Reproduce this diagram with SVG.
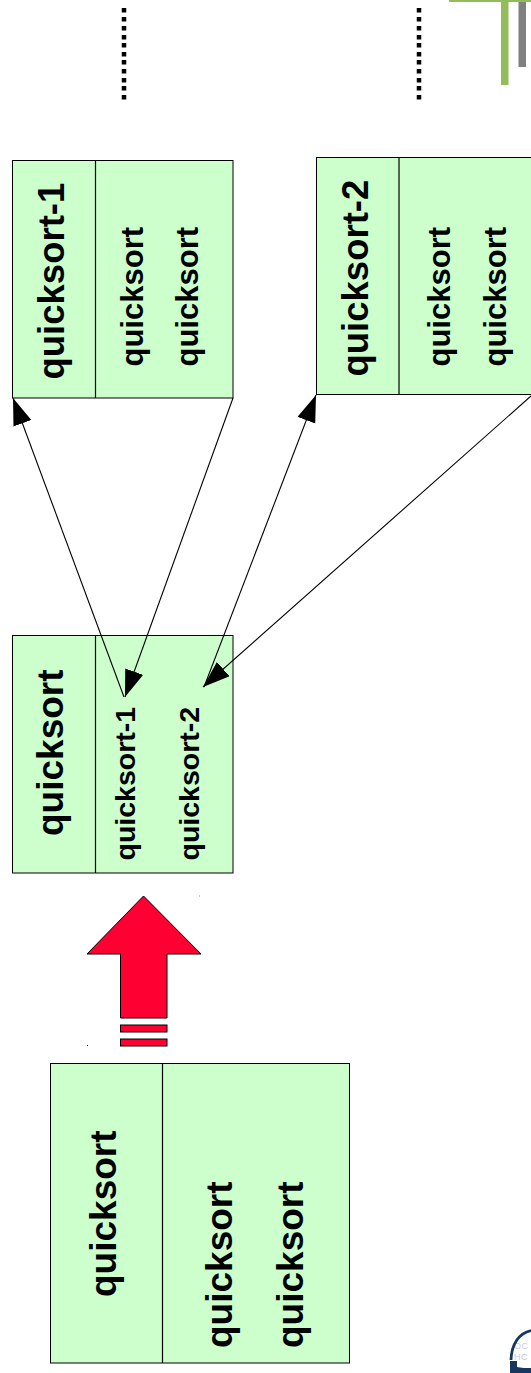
<svg xmlns="http://www.w3.org/2000/svg" width="531" height="1373" viewBox="0 0 531 1373">
<style>
.box{fill:#ccffcc;stroke:#000;stroke-width:1}
.div{stroke:#000;stroke-width:1.200;fill:none}
text{font-family:"Liberation Sans",Arial,sans-serif;font-weight:bold;fill:#000}
.t37{font-size:37px}.t365{font-size:36.500px}.t31{font-size:31px}.t29{font-size:28.500px}
.c{stroke:#000;stroke-width:1.100;fill:none;marker-end:url(#ah)}
.lg{font-size:9px;font-weight:normal;fill:#c9c9ea;letter-spacing:.5px}
</style>
<defs>
<marker id="ah" markerUnits="userSpaceOnUse" markerWidth="29" markerHeight="21" refX="27" refY="9.500" orient="auto"><path d="M0,0L27,9.500L0,19Z" fill="#000"/></marker>
<g id="dots"><rect x="0" y="8" width="4.500" height="4.500"/><rect x="0" y="17" width="4.500" height="4.500"/><rect x="0" y="26" width="4.500" height="4.500"/><rect x="0" y="35" width="4.500" height="4.500"/><rect x="0" y="43" width="4.500" height="4.500"/><rect x="0" y="52" width="4.500" height="4.500"/><rect x="0" y="60" width="4.500" height="4.500"/><rect x="0" y="69" width="4.500" height="4.500"/><rect x="0" y="78" width="4.500" height="4.500"/><rect x="0" y="86" width="4.500" height="4.500"/><rect x="0" y="95" width="4.500" height="4.500"/></g>
</defs>
<rect width="531" height="1373" fill="#fff"/>
<g id="decor">
<rect x="449" y="0" width="82" height="2" fill="#93bd5b"/>
<rect x="501" y="0" width="7.500" height="85" fill="#93bd5b"/>
<rect x="518.500" y="2" width="7.500" height="65" fill="#808080"/>
<use href="#dots" x="121.750" y="0"/>
<use href="#dots" x="416.750" y="0"/>
<rect x="199" y="895.500" width="1" height="1" fill="#888"/>
<rect x="87" y="1045" width="1" height="1" fill="#000"/>
</g>
<g id="quicksort-1">
<rect class="box" x="12.500" y="160.500" width="220.500" height="237.500"/>
<path class="div" d="M95.500 160.500V398"/>
<text class="t365" transform="translate(63.500 379.500) rotate(-90)">quicksort-1</text>
<text class="t31" transform="translate(142.500 366.500) rotate(-90)">quicksort</text>
<text class="t31" transform="translate(198 366.500) rotate(-90)">quicksort</text>
</g>
<g id="quicksort-2">
<rect class="box" x="316.500" y="157.500" width="220" height="237"/>
<path class="div" d="M399 157.500V394.500"/>
<text class="t365" transform="translate(368 376.500) rotate(-90)">quicksort-2</text>
<text class="t31" transform="translate(450 366.500) rotate(-90)">quicksort</text>
<text class="t31" transform="translate(506 366.500) rotate(-90)">quicksort</text>
</g>
<g id="quicksort">
<rect class="box" x="12.500" y="635.500" width="220.500" height="237.500"/>
<path class="div" d="M95.500 635.500V873"/>
<text class="t37" transform="translate(63 836) rotate(-90)">quicksort</text>
<text class="t29" transform="translate(135 860.500) rotate(-90)">quicksort-1</text>
<text class="t29" transform="translate(199 860.500) rotate(-90)">quicksort-2</text>
</g>
<g id="quicksort-large">
<rect class="box" x="50.500" y="1063.500" width="299" height="299.500"/>
<path class="div" d="M162.500 1063.500V1363"/>
<text class="t37" transform="translate(116 1297) rotate(-90)">quicksort</text>
<text class="t37" transform="translate(232 1348) rotate(-90)">quicksort</text>
<text class="t37" transform="translate(303 1348) rotate(-90)">quicksort</text>
</g>
<g id="red-arrow" fill="#ff0033" stroke="#000" stroke-width="1">
<path d="M143.500 896L201 954H167V1018H120.500V954H87Z"/>
<rect x="120.500" y="1025" width="46.500" height="7"/>
<rect x="120.500" y="1039" width="46.500" height="7"/>
</g>
<g id="connectors">
<path class="c" d="M124 697L13 398"/>
<path class="c" d="M233 398L125 697"/>
<path class="c" d="M204 687L316 395"/>
<path class="c" d="M531 396L203 687"/>
</g>
<g id="logo">
<text class="lg" x="514" y="1349">OC</text>
<text class="lg" x="514" y="1360">HC</text>
<path d="M511 1360C511.500 1344 519 1333 531 1330.500" fill="none" stroke="#17375e" stroke-width="2.800"/>
<path d="M510 1361H517V1367C521 1368 526 1368 531 1368V1373H510Z" fill="#17375e"/>
</g>
</svg>
